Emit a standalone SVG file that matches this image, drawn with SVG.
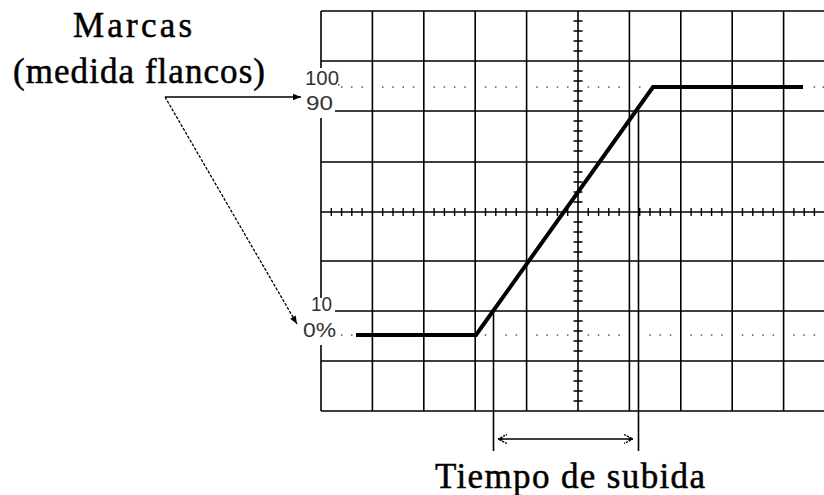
<svg xmlns="http://www.w3.org/2000/svg" width="824" height="495" viewBox="0 0 824 495">
<defs>
<style>
.grid{stroke:#000;stroke-width:1.6;fill:none}
.tick{stroke:#000;stroke-width:1.4;fill:none}
.dot{fill:#555}
.sig{stroke:#000;stroke-width:4;fill:none;stroke-linejoin:miter}
.thin{stroke:#000;stroke-width:1.3;fill:none}
.lbl{font-family:"Liberation Sans",Arial,sans-serif;font-size:20px;fill:#333}
.title{font-family:"Liberation Serif","Times New Roman",serif;font-size:35px;fill:#000;stroke:#000;stroke-width:0.5}
</style>
<marker id="fa" viewBox="0 0 10 10" refX="10" refY="5" markerWidth="10" markerHeight="8" markerUnits="userSpaceOnUse" orient="auto">
<path d="M0,1 L10,5 L0,9 Z" fill="#000"/>
</marker>
<marker id="oa" viewBox="0 0 10 10" refX="10" refY="5" markerWidth="9" markerHeight="11" markerUnits="userSpaceOnUse" orient="auto-start-reverse">
<path d="M0,0 L10,5 L0,10" fill="none" stroke="#000" stroke-width="1.5" stroke-dasharray="2.5,1"/>
<path d="M5,3 L10,5 L5,7 Z" fill="#000"/>
</marker>
</defs>
<rect width="824" height="495" fill="#fff"/>

<g id="grid">
<path class="grid" d="M321,11V68 M321,118V298 M321,345V411
M372.4,11V411 M423.8,11V411 M475.2,11V411 M526.6,11V411 M578,11V411 M629.4,11V411 M680.8,11V411 M732.2,11V411 M783.6,11V411
M321,11H824 M321,61H824 M335,111H824 M321,162H824 M321,212H824 M321,261H824 M335,311H824 M321,361H824 M321,411H824"/>
<path class="tick" d="M331.3,208v8 M341.6,208v8 M351.8,208v8 M362.1,208v8 M382.7,208v8 M393,208v8 M403.2,208v8 M413.5,208v8 M434.1,208v8 M444.4,208v8 M454.6,208v8 M464.9,208v8 M485.5,208v8 M495.8,208v8 M506,208v8 M516.3,208v8 M536.9,208v8 M547.2,208v8 M557.4,208v8 M567.7,208v8 M588.3,208v8 M598.6,208v8 M608.8,208v8 M619.1,208v8 M639.7,208v8 M650,208v8 M660.2,208v8 M670.5,208v8 M691.1,208v8 M701.4,208v8 M711.6,208v8 M721.9,208v8 M742.5,208v8 M752.8,208v8 M763,208v8 M773.3,208v8 M793.9,208v8 M804.2,208v8 M814.4,208v8
M573.5,21h9 M573.5,31h9 M573.5,41h9 M573.5,51h9 M573.5,71h9 M573.5,81h9 M573.5,91h9 M573.5,101h9 M573.5,121h9 M573.5,131h9 M573.5,141h9 M573.5,151h9 M573.5,172h9 M573.5,182h9 M573.5,192h9 M573.5,202h9 M573.5,222h9 M573.5,232h9 M573.5,242h9 M573.5,252h9 M573.5,271h9 M573.5,281h9 M573.5,291h9 M573.5,301h9 M573.5,321h9 M573.5,331h9 M573.5,341h9 M573.5,351h9 M573.5,371h9 M573.5,381h9 M573.5,391h9 M573.5,401h9"/>
</g>

<g id="dots-100">
<g class="dot">
<rect x="341" y="86.3" width="1.5" height="1.5"/><rect x="351" y="86.3" width="1.5" height="1.5"/><rect x="361.4" y="86.3" width="1.5" height="1.5"/>
<rect x="382" y="86.3" width="1.5" height="1.5"/><rect x="392.2" y="86.3" width="1.5" height="1.5"/><rect x="402.5" y="86.3" width="1.5" height="1.5"/><rect x="412.8" y="86.3" width="1.5" height="1.5"/>
<rect x="433.4" y="86.3" width="1.5" height="1.5"/><rect x="443.6" y="86.3" width="1.5" height="1.5"/><rect x="453.9" y="86.3" width="1.5" height="1.5"/><rect x="464.2" y="86.3" width="1.5" height="1.5"/>
<rect x="484.8" y="86.3" width="1.5" height="1.5"/><rect x="495" y="86.3" width="1.5" height="1.5"/><rect x="505.3" y="86.3" width="1.5" height="1.5"/><rect x="515.6" y="86.3" width="1.5" height="1.5"/>
<rect x="536.2" y="86.3" width="1.5" height="1.5"/><rect x="546.4" y="86.3" width="1.5" height="1.5"/><rect x="556.7" y="86.3" width="1.5" height="1.5"/><rect x="567" y="86.3" width="1.5" height="1.5"/>
<rect x="587.6" y="86.3" width="1.5" height="1.5"/><rect x="597.8" y="86.3" width="1.5" height="1.5"/><rect x="608.1" y="86.3" width="1.5" height="1.5"/><rect x="618.4" y="86.3" width="1.5" height="1.5"/>
<rect x="639" y="86.3" width="1.5" height="1.5"/>
<rect x="813.7" y="86.3" width="1.5" height="1.5"/><rect x="822.5" y="86.3" width="1.5" height="1.5"/>
</g>
</g>

<g id="dots-0">
<g class="dot">
<rect x="341" y="334.3" width="1.5" height="1.5"/><rect x="351" y="334.3" width="1.5" height="1.5"/>
<rect x="484.8" y="334.3" width="1.5" height="1.5"/><rect x="505.3" y="334.3" width="1.5" height="1.5"/><rect x="515.6" y="334.3" width="1.5" height="1.5"/>
<rect x="536.2" y="334.3" width="1.5" height="1.5"/><rect x="546.4" y="334.3" width="1.5" height="1.5"/><rect x="556.7" y="334.3" width="1.5" height="1.5"/><rect x="567" y="334.3" width="1.5" height="1.5"/>
<rect x="587.6" y="334.3" width="1.5" height="1.5"/><rect x="597.8" y="334.3" width="1.5" height="1.5"/><rect x="608.1" y="334.3" width="1.5" height="1.5"/><rect x="618.4" y="334.3" width="1.5" height="1.5"/>
<rect x="649.3" y="334.3" width="1.5" height="1.5"/><rect x="659.5" y="334.3" width="1.5" height="1.5"/><rect x="669.8" y="334.3" width="1.5" height="1.5"/>
<rect x="690.4" y="334.3" width="1.5" height="1.5"/><rect x="700.7" y="334.3" width="1.5" height="1.5"/><rect x="710.9" y="334.3" width="1.5" height="1.5"/><rect x="721.2" y="334.3" width="1.5" height="1.5"/>
<rect x="741.8" y="334.3" width="1.5" height="1.5"/><rect x="752" y="334.3" width="1.5" height="1.5"/><rect x="762.3" y="334.3" width="1.5" height="1.5"/><rect x="772.6" y="334.3" width="1.5" height="1.5"/>
<rect x="793.2" y="334.3" width="1.5" height="1.5"/><rect x="803.4" y="334.3" width="1.5" height="1.5"/><rect x="813.7" y="334.3" width="1.5" height="1.5"/>
</g>
</g>

<g id="signal">
<polyline class="sig" points="356,335 476,335 653,87 803,87"/>
</g>

<g id="labels">
<text class="lbl" x="305" y="85" textLength="34" lengthAdjust="spacingAndGlyphs">100</text>
<rect class="dot" x="338" y="84" width="1.5" height="1.5"/>
<text class="lbl" x="306" y="110" textLength="27" lengthAdjust="spacingAndGlyphs">90</text>
<text class="lbl" x="311" y="311" textLength="21" lengthAdjust="spacingAndGlyphs">10</text>
<text class="lbl" x="303" y="337" textLength="33" lengthAdjust="spacingAndGlyphs">0%</text>
</g>

<g id="marcas">
<text class="title" x="73" y="37" textLength="119">Marcas</text>
<text class="title" x="13" y="83" textLength="252">(medida flancos)</text>
</g>

<g id="tiempo">
<text class="title" x="435" y="488" textLength="270">Tiempo de subida</text>
</g>

<g id="connectors">
<line class="thin" x1="165" y1="97" x2="301" y2="97" marker-end="url(#fa)"/>
<line class="thin" x1="165" y1="97" x2="297" y2="324" stroke-dasharray="3,1.5" marker-end="url(#fa)"/>
<line class="grid" x1="493.5" y1="311" x2="493.5" y2="451"/>
<line class="grid" x1="638.5" y1="111" x2="638.5" y2="451"/>
<line class="thin" x1="498" y1="439" x2="633" y2="439" marker-start="url(#oa)" marker-end="url(#oa)"/>
</g>
</svg>
